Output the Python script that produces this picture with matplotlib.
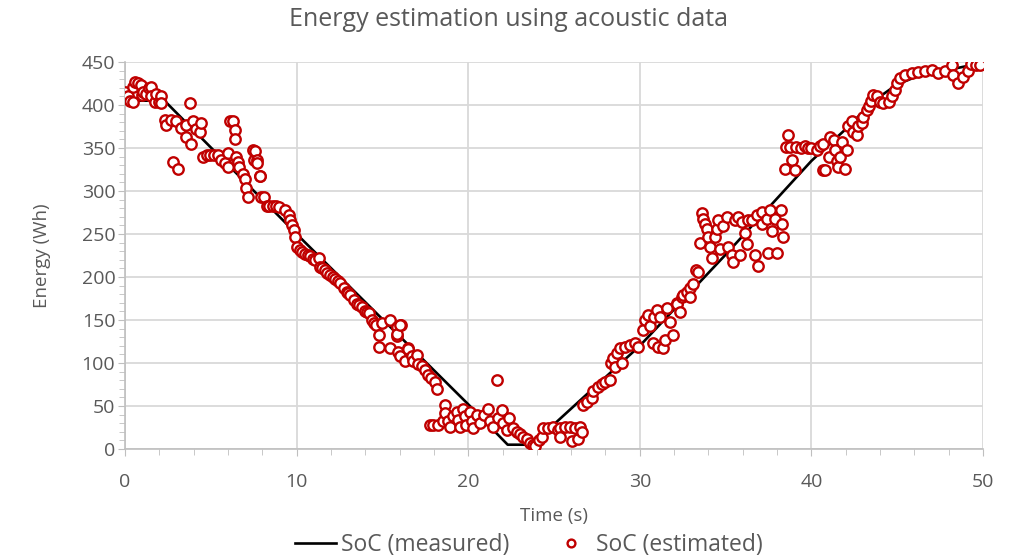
import numpy as np
import matplotlib.pyplot as plt
from matplotlib.ticker import MultipleLocator

plt.rcParams['font.family'] = ['Open Sans', 'DejaVu Sans']

# Measured energy (black line)
meas_t = [0, 2.3, 10, 20, 22.3, 23.7, 30, 35, 40, 42, 43, 44, 45, 46, 47, 48, 49.5]
meas_e = [405, 405, 250, 52, 5, 5, 120, 226, 335, 372, 392, 410, 424, 432, 437, 441, 447]

# Estimated energy (red circles), read off in segments
est_t_a = [0.0, 0.17, 0.3, 0.47, 0.47, 0.6, 0.76, 0.95, 1.0, 1.05, 1.25, 1.4, 1.53, 1.53,
           1.73, 1.8, 2.0, 2.12, 2.12, 2.31, 2.4, 2.7, 2.8, 2.98, 3.09, 3.28, 3.56, 3.57,
           3.77, 3.87, 3.96, 4.15, 4.35, 4.45]
est_e_a = [415, 410, 405, 404, 421, 427, 425, 423, 412, 415, 413, 420, 421, 410,
           404, 413, 403, 410, 402, 383, 377, 383, 334, 381, 326, 373, 363, 377,
           402, 355, 381, 372, 369, 379]

est_t_b = [4.55, 4.75, 4.95, 5.2, 5.42, 5.6, 5.8, 6.0, 6.0, 6.1, 6.3, 6.39, 6.39, 6.48,
           6.57, 6.67, 6.88, 6.97, 7.07, 7.17, 7.47, 7.5, 7.56, 7.7, 7.7, 7.85, 7.87,
           7.95, 8.08]
est_e_b = [340, 342, 342, 342, 342, 336, 332, 328, 344, 381, 381, 371, 361, 340,
           334, 328, 320, 314, 303, 293, 348, 336, 346, 336, 333, 317, 317,
           293, 293]

est_t_c = [8.27, 8.4, 8.6, 8.8, 9.0, 9.35, 9.55, 9.64, 9.74, 9.84, 9.93, 10.03, 10.2,
           10.3, 10.5, 10.65, 10.8, 10.95, 11.1, 11.3, 11.38, 11.5, 11.67, 11.8, 11.96,
           12.1, 12.25, 12.4, 12.55, 12.74, 12.93, 13.0, 13.13, 13.32, 13.52, 13.65,
           13.8, 14.0, 14.1, 14.2, 14.39, 14.5, 14.6, 14.78, 14.78, 14.97, 15.46,
           15.46, 15.85, 15.85, 16.1, 16.5]
est_e_c = [282, 283, 282, 282, 281, 278, 272, 266, 260, 255, 247, 235, 231,
           229, 227, 226, 224, 221, 220, 222, 212, 211, 208, 205, 202,
           200, 198, 195, 193, 187, 183, 181, 179, 173, 169, 167,
           165, 161, 159, 158, 150, 147, 144, 133, 119, 146, 150,
           117, 142, 131, 144, 117]

est_t_d = [15.83, 15.93, 16.03, 16.03, 16.3, 16.5, 16.7, 16.8, 17.0, 17.1, 17.28, 17.48,
           17.67, 17.77, 17.86, 17.97, 18.06, 18.16, 18.26, 18.55, 18.64, 18.64, 18.83,
           18.93, 19.1, 19.32, 19.4, 19.5, 19.71, 19.8, 19.9, 20.1, 20.2, 20.3, 20.5,
           20.7, 20.9, 21.17, 21.26, 21.46, 21.66, 21.75, 21.95, 22.05, 22.24, 22.4,
           22.6, 22.82, 23.0, 23.2, 23.4, 23.6, 23.8, 23.9, 24.1, 24.3, 24.38, 24.67,
           24.95, 25.25]
est_e_d = [134, 113, 144, 108, 102, 116, 108, 102, 109, 99, 96, 92,
           86, 28, 82, 28, 78, 70, 28, 32, 51, 42, 32,
           26, 38, 43, 34, 26, 47, 38, 28, 43, 32, 24, 39,
           30, 39, 47, 32, 26, 80, 36, 45, 30, 22, 36,
           24, 20, 18, 14, 12, 7, 5, 3, 10, 14, 24, 24,
           25, 22]

est_t_e = [25.35, 25.35, 25.65, 25.94, 26.03, 26.2, 26.42, 26.5, 26.61, 26.7, 26.9, 27.2,
           27.3, 27.57, 27.77, 27.96, 28.26, 28.35, 28.45, 28.55, 28.65, 28.85, 28.94,
           29.14, 29.43, 29.72, 29.92, 30.2, 30.3, 30.5, 30.6, 30.79, 30.8, 30.98, 31.08,
           31.2, 31.37, 31.47, 31.57, 31.76, 31.96, 32.15, 32.15, 32.35, 32.44, 32.54,
           32.73, 32.9, 32.9, 33.1, 33.3, 33.4]
est_e_e = [24, 14, 26, 25, 9, 24, 12, 26, 20, 51, 55, 59,
           68, 72, 76, 78, 80, 100, 106, 95, 112, 117, 100,
           119, 121, 123, 119, 138, 150, 156, 143, 123, 153, 162, 119,
           153, 117, 127, 164, 148, 133, 170, 169, 159, 177, 179,
           183, 187, 177, 192, 208, 206]

est_t_f = [33.5, 33.6, 33.7, 33.8, 33.9, 34.0, 34.1, 34.2, 34.4, 34.5, 34.57, 34.66,
           34.86, 35.06, 35.16, 35.35, 35.45, 35.55, 35.75, 35.84, 35.94, 36.13, 36.23,
           36.3, 36.52, 36.7, 36.8, 36.9, 37.1, 37.1, 37.4, 37.49, 37.6, 37.7, 37.9,
           38.0, 38.2, 38.3, 38.36]
est_e_f = [239, 274, 268, 262, 256, 246, 235, 222, 246, 256, 266, 232,
           259, 270, 235, 225, 218, 266, 270, 225, 264, 251, 238,
           266, 266, 226, 272, 213, 276, 262, 268, 228, 278, 254, 268,
           228, 278, 262, 247]

est_t_g = [38.46, 38.5, 38.66, 38.75, 38.85, 39.04, 39.1, 39.4, 39.6, 39.8, 40.0, 40.3,
           40.5, 40.7, 40.7, 40.8, 41.0, 41.1, 41.3, 41.4, 41.5, 41.57, 41.67, 41.76,
           41.96, 42.06, 42.15, 42.35, 42.45, 42.64, 42.74, 42.94, 43.03, 43.23, 43.33,
           43.5, 43.6, 43.8, 44.0, 44.2, 44.5, 44.7, 44.87, 44.97, 45.16, 45.45, 45.84,
           46.23, 46.6, 47.0, 47.4, 47.8, 48.17, 48.27, 48.56, 48.85, 49.1, 49.3, 49.6,
           49.8]
est_e_g = [325, 351, 365, 351, 336, 324, 351, 350, 352, 350, 350, 348,
           352, 355, 324, 324, 340, 363, 359, 348, 335, 328, 340, 357,
           326, 348, 375, 381, 369, 365, 375, 379, 386, 394, 399,
           405, 412, 410, 404, 402, 404, 410, 417, 425, 431, 435, 437,
           438, 440, 441, 437, 440, 446, 435, 425, 433, 440, 448, 446,
           446]

est_t = est_t_a + est_t_b + est_t_c + est_t_d + est_t_e + est_t_f + est_t_g
est_e = est_e_a + est_e_b + est_e_c + est_e_d + est_e_e + est_e_f + est_e_g

text_col = '#595959'
grid_col = '#d9d9d9'

fig = plt.figure(figsize=(10.17, 5.57), dpi=100)
ax = fig.add_axes([0.1229, 0.1939, 0.8437, 0.6948])

ax.plot(meas_t, meas_e, color='black', lw=1.9, label='SoC (measured)', zorder=2)
ax.plot(est_t, est_e, linestyle='none', marker='o', ms=7.5, mfc='white',
        mec='#c00000', mew=1.7, label='SoC (estimated)', zorder=3)

ax.set_xlim(0, 50)
ax.set_ylim(0, 450)
ax.xaxis.set_major_locator(MultipleLocator(10))
ax.xaxis.set_minor_locator(MultipleLocator(2))
ax.yaxis.set_major_locator(MultipleLocator(50))
ax.yaxis.set_minor_locator(MultipleLocator(10))
ax.grid(True, which='major', color=grid_col, lw=1.3, zorder=0)
ax.set_axisbelow(True)

for s in ['top', 'right']:
    ax.spines[s].set_visible(False)
for s in ['left', 'bottom']:
    ax.spines[s].set_color('#bfbfbf')
    ax.spines[s].set_linewidth(1.2)

ax.tick_params(which='both', colors='#bfbfbf', labelcolor=text_col, labelsize=14)
ax.tick_params(which='major', length=5)
ax.tick_params(which='minor', length=4)
ax.tick_params(axis='x', which='major', pad=12)
ax.tick_params(axis='y', which='major', pad=2)

fig.text(0.5, 0.965, 'Energy estimation using acoustic data', color=text_col,
         fontsize=18, ha='center', va='center')
ax.set_xlabel('Time (s)', color=text_col, fontsize=13.5, labelpad=12)
ax.set_ylabel('Energy (Wh)', color=text_col, fontsize=13.5, labelpad=22)

leg = fig.legend(loc='center', bbox_to_anchor=(0.52, 0.022), ncol=2, frameon=False,
                 fontsize=16.5, handlelength=1.8, handletextpad=0.2, columnspacing=1.8,
                 markerscale=0.75)
for t in leg.get_texts():
    t.set_color(text_col)

plt.savefig('out.png', dpi=100)
plt.close(fig)
